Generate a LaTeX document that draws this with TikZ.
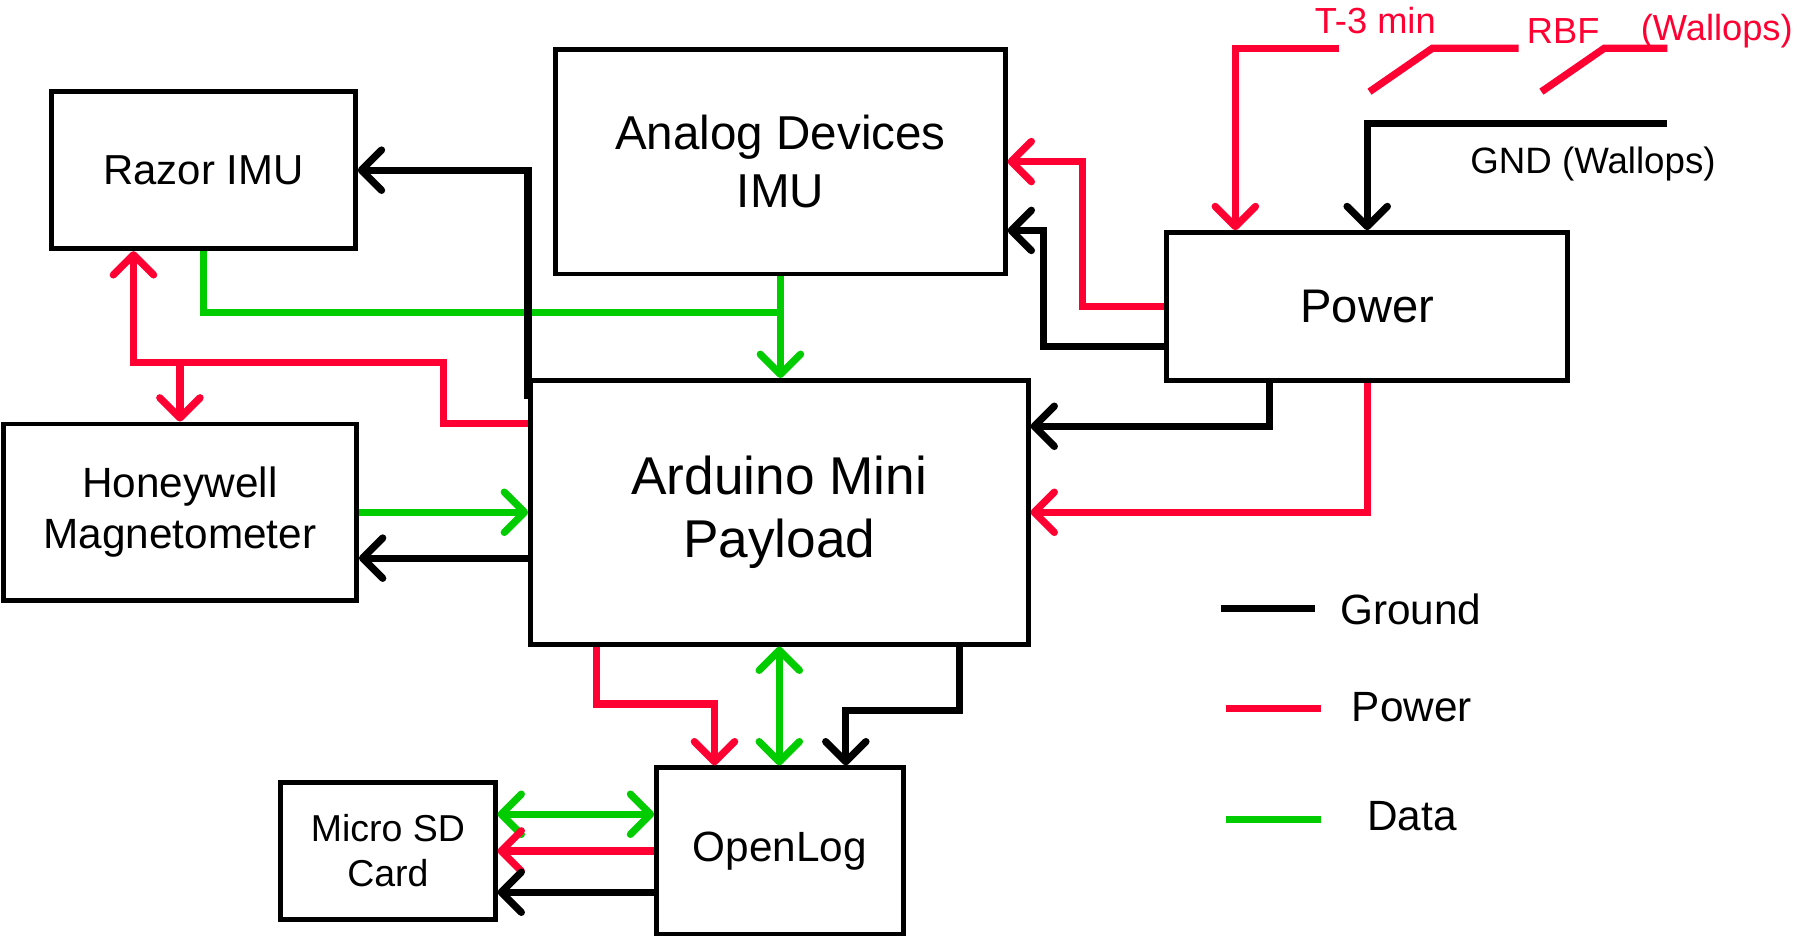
\documentclass[tikz,border=0pt]{standalone}
\usepackage{fontspec}
\setmainfont{Liberation Sans}
\usepackage{xcolor}
\usepackage{tikz}
\usetikzlibrary{arrows.meta, positioning, calc}
\definecolor{pwrred}{RGB}{255,0,51}
\definecolor{datagreen}{RGB}{0,204,0}
\tikzset{
  block/.style={rectangle, draw=black, line width=1.2pt, align=center, inner sep=0pt, text centered},
  gnd/.style={draw=black, line width=1.8pt},
  pwr/.style={draw=pwrred, line width=1.8pt},
  data/.style={draw=datagreen, line width=1.8pt},
  gndarrow/.style={gnd,->,>={Straight Barb[length=5pt,width=10pt,round]}},
  pwrarrow/.style={pwr,->,>={Straight Barb[length=5pt,width=10pt,round]}},
  dataarrow/.style={data,->,>={Straight Barb[length=5pt,width=10pt,round]}},
  datadbl/.style={data,<->,>={Straight Barb[length=5pt,width=10pt,round]}},
  swlabel/.style={text=pwrred, font=\fontsize{9}{11}\selectfont},
  legendtext/.style={font=\fontsize{10.5}{12.6}\selectfont}
}

\begin{document}
\begin{tikzpicture}[x=0.01cm, y=-0.01cm]
\useasboundingbox (0,0) rectangle (1568,818);
% Blocks
\node[block, minimum width=2.65cm, minimum height=1.37cm, font=\fontsize{10.4}{12.5}\selectfont] (razor) at (177.5,148.5) {Razor IMU};
\node[block, minimum width=3.92cm, minimum height=1.96cm, font=\fontsize{11.8}{14.2}\selectfont] (adimu) at (681,141) {Analog Devices\\IMU};
\node[block, minimum width=4.34cm, minimum height=2.3cm, font=\fontsize{13.2}{15.8}\selectfont] (arduino) at (680,447) {Arduino Mini\\Payload};
\node[block, minimum width=3.5cm, minimum height=1.29cm, font=\fontsize{11.7}{14}\selectfont] (power) at (1193,267.5) {Power};
\node[block, minimum width=3.08cm, minimum height=1.54cm, font=\fontsize{10.5}{12.6}\selectfont] (honey) at (157,447) {Honeywell\\Magnetometer};
\node[block, minimum width=2.15cm, minimum height=1.45cm, font=\fontsize{10.5}{12.6}\selectfont] (openlog) at (680.5,742.5) {OpenLog};
\node[block, minimum width=1.87cm, minimum height=1.19cm, font=\fontsize{9.3}{11.1}\selectfont] (sd) at (338.5,742.5) {Micro SD\\Card};

% Switches and ground from Wallops
\node[swlabel] (t3lbl) at (1200,18) {T-3 min};
\node[swlabel] (rbflbl) at (1364,27) {RBF};
\node[swlabel] (wallopslbl) at (1498,27) {(Wallops)};
\node[font=\fontsize{9.1}{11}\selectfont] (gndlbl) at (1390,143) {GND (Wallops)};
\coordinate (t3end) at (1168,42);
\coordinate (gndin) at (1455,108);
\draw[pwrarrow] (t3end) -| ([xshift=-1.15cm]power.north);
\draw[pwr] (1195,80) -- (1250,42) -- (1325,42);
\draw[pwr] (1345,80) -- (1400,42) -- (1455,42);
\draw[gndarrow] (gndin) -| (power.north);

% Power to IMU and Arduino
\draw[pwrarrow] (power.west) -- ++(-71,0) |- (adimu.east);
\draw[gndarrow] ([yshift=-0.35cm]power.west) -- ++(-105,0) |- ([yshift=-0.6cm]adimu.east);
\draw[gndarrow] ([xshift=-0.85cm]power.south) |- ([yshift=0.75cm]arduino.east);
\draw[pwrarrow] (power.south) |- (arduino.east);

% Sensors
\coordinate (gjoin) at (adimu.south |- 0,273);
\draw[data] (razor.south) |- (gjoin);
\draw[dataarrow] (adimu.south) -- (adimu.south |- arduino.north);
\draw[gndarrow] ([yshift=-0.18cm]arduino.north west) |- (razor.east);
\coordinate (rz) at ([xshift=-0.61cm]razor.south);
\coordinate (rjoin) at (honey.north |- 0,316);
\draw[pwrarrow] ([yshift=-0.4cm]arduino.north west) -| (387,316) -| (rz);
\draw[pwrarrow] (rjoin) -- (honey.north);
\draw[dataarrow] (honey.east) -- (honey.east -| arduino.west);
\draw[gndarrow] ([yshift=-0.4cm]arduino.west) -- ([yshift=-0.4cm]honey.east);

% Logging
\draw[pwrarrow] ([xshift=0.6cm]arduino.south west) -- ++(0,50) -| ([xshift=-0.57cm]openlog.north);
\draw[datadbl] (arduino.south) -- (arduino.south |- openlog.north);
\draw[gndarrow] ([xshift=-0.62cm]arduino.south east) -- ++(0,56) -| ([xshift=0.575cm]openlog.north);
\draw[datadbl] ([yshift=0.32cm]sd.east) -- ([yshift=0.32cm]openlog.west);
\draw[pwrarrow] (openlog.west) -- (sd.east);
\draw[gndarrow] ([yshift=-0.36cm]openlog.west) -- ([yshift=-0.36cm]sd.east);

% Legend
\draw[gnd] (1065,531) -- (1147,531);
\node[legendtext] (lgnd) at (1231,532) {Ground};
\draw[pwr] (1070,618) -- (1153,618);
\node[legendtext] (lpwr) at (1232,617) {Power};
\draw[data] (1070,715) -- (1153,715);
\node[legendtext] (ldata) at (1232,712) {Data};
\end{tikzpicture}
\end{document}
